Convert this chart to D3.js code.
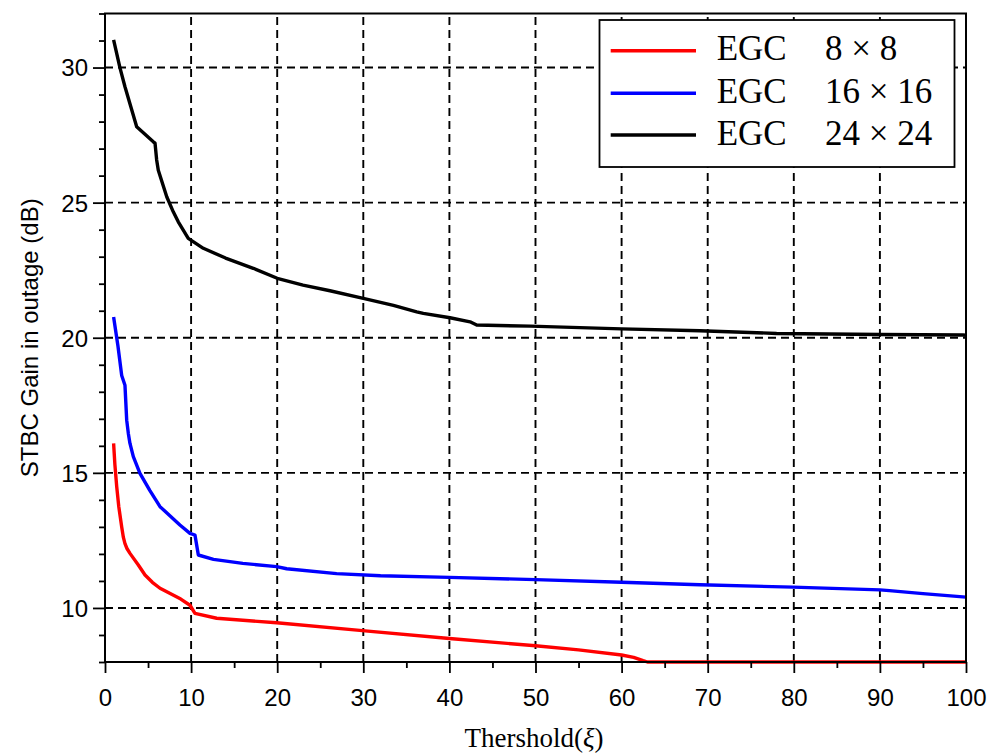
<!DOCTYPE html>
<html>
<head>
<meta charset="utf-8">
<script src="https://cdn.jsdelivr.net/npm/d3@7"></script>
<style>
  body { margin: 0; background: #fff; }
  svg { display: block; }
</style>
</head>
<body>
<svg id="chart" width="994" height="754"></svg>
<script>
// Threshold values and STBC gain (dB) for each EGC array size
const x8 = [1, 1.15, 1.36, 1.6, 1.94, 2.13, 2.32, 2.55, 2.9, 3.87, 4.65, 5.5, 6.39, 8.8, 9.87, 10.45, 12.97, 19.94, 29.9, 40, 50, 55, 60, 61.4, 62.5, 63, 70, 80, 90, 100];
const y8 = [16.09, 15.3, 14.49, 13.75, 13.0, 12.62, 12.38, 12.2, 12.02, 11.59, 11.22, 10.95, 10.73, 10.33, 10.1, 9.8, 9.62, 9.45, 9.16, 8.87, 8.6, 8.45, 8.26, 8.17, 8.05, 8.0, 8.0, 8.0, 8.0, 8.0];

const x16 = [1, 1.5, 1.94, 2.32, 2.52, 2.71, 2.9, 3.29, 4.06, 5.2, 6.39, 8.7, 9.87, 10.45, 10.84, 12.6, 16, 19.94, 21.1, 26.9, 32, 40, 50, 60, 69.1, 79.9, 90, 91.1, 95, 100];
const y16 = [20.77, 19.7, 18.6, 18.24, 16.95, 16.46, 16.09, 15.6, 14.98, 14.35, 13.75, 13.07, 12.76, 12.7, 11.96, 11.8, 11.65, 11.53, 11.45, 11.27, 11.19, 11.13, 11.05, 10.95, 10.86, 10.77, 10.67, 10.64, 10.53, 10.4];

const x24 = [1, 1.74, 2.32, 3.0, 3.68, 5.61, 5.81, 6.0, 6.19, 7.17, 7.93, 8.51, 9.67, 11.42, 14, 17.22, 20, 23, 26.13, 30, 33.5, 36.2, 36.97, 40.07, 42.4, 43.17, 49.36, 60, 69.1, 78, 90, 99.65, 100];
const y24 = [31.02, 29.99, 29.29, 28.55, 27.81, 27.25, 27.2, 26.58, 26.2, 25.22, 24.66, 24.29, 23.68, 23.31, 22.95, 22.57, 22.2, 21.95, 21.74, 21.46, 21.2, 20.96, 20.9, 20.74, 20.59, 20.47, 20.43, 20.33, 20.26, 20.16, 20.12, 20.1, 20.09];

const legendNames = ["EGC", "EGC", "EGC"];
const legendSizes = ["8 × 8", "16 × 16", "24 × 24"];
const seriesColors = ["#ff0000", "#0000ff", "#000000"];

const xTicks = [0, 10, 20, 30, 40, 50, 60, 70, 80, 90, 100];
const yTicks = [10, 15, 20, 25, 30];

const xLabel = "Thershold";
const yLabel = "STBC Gain in outage (dB)";

const series = [
  { xs: x8, ys: y8 },
  { xs: x16, ys: y16 },
  { xs: x24, ys: y24 }
];

const svg = d3.select("#chart");
const plotLeft = 105, plotRight = 966, plotTop = 13.5, plotBottom = 662;

const x = d3.scaleLinear().domain([0, 100]).range([plotLeft, plotRight]);
const y = d3.scaleLinear().domain([8, 32]).range([plotBottom, plotTop]);

// dashed grid
const grid = svg.append("g").attr("stroke", "#000").attr("stroke-width", 1.9)
  .attr("stroke-dasharray", "8,5").attr("fill", "none");
grid.selectAll("line.gx").data(xTicks.filter(d => d > 0 && d < 100)).join("line")
  .attr("class", "gx")
  .attr("x1", d => x(d)).attr("x2", d => x(d))
  .attr("y1", plotBottom).attr("y2", plotTop);
grid.selectAll("line.gy").data(yTicks).join("line")
  .attr("class", "gy")
  .attr("y1", d => y(d)).attr("y2", d => y(d))
  .attr("x1", plotLeft).attr("x2", plotRight);

// data curves
const line = d3.line().x(d => x(d[0])).y(d => y(d[1]));
svg.append("g").selectAll("path").data(series).join("path")
  .attr("d", s => line(s.xs.map((v, i) => [v, s.ys[i]])))
  .attr("fill", "none")
  .attr("stroke", (s, i) => seriesColors[i])
  .attr("stroke-width", 3.4)
  .attr("stroke-linejoin", "round");

// axes
const tickFont = "Liberation Sans, Arial, sans-serif";
const xAxis = svg.append("g").attr("transform", `translate(0,${plotBottom})`)
  .call(d3.axisBottom(x).tickValues(d3.range(0, 101, 5)).tickSize(6)
    .tickFormat(d => xTicks.includes(d) ? d : ""));
xAxis.select(".domain").remove();
xAxis.selectAll(".tick line").attr("stroke-width", 1.8)
  .attr("y2", d => xTicks.includes(d) ? 11 : 6);
xAxis.selectAll(".tick text").attr("font-family", tickFont).attr("font-size", 24)
  .attr("fill", "#000").attr("dy", 0).attr("y", 44);

const yAxis = svg.append("g").attr("transform", `translate(${plotLeft},0)`)
  .call(d3.axisLeft(y).tickValues(d3.range(8, 33, 1)).tickSize(6)
    .tickFormat(d => yTicks.includes(d) ? d : ""));
yAxis.select(".domain").remove();
yAxis.selectAll(".tick line").attr("stroke-width", 1.8)
  .attr("x2", d => yTicks.includes(d) ? -12 : -6);
yAxis.selectAll(".tick text").attr("font-family", tickFont).attr("font-size", 24)
  .attr("fill", "#000").attr("x", -17).attr("dy", "0.35em");

// plot frame
svg.append("rect").attr("x", plotLeft).attr("y", plotTop)
  .attr("width", plotRight - plotLeft).attr("height", plotBottom - plotTop)
  .attr("fill", "none").attr("stroke", "#000").attr("stroke-width", 2);

// axis titles
svg.append("text")
  .attr("transform", `translate(38,${(plotTop + plotBottom) / 2}) rotate(-90)`)
  .attr("text-anchor", "middle")
  .attr("font-family", tickFont).attr("font-size", 24)
  .text(yLabel);

const xt = svg.append("text").attr("x", 534).attr("y", 747)
  .attr("text-anchor", "middle")
  .attr("font-family", "Liberation Serif, Times New Roman, serif").attr("font-size", 27);
xt.append("tspan").text(xLabel + "(");
xt.append("tspan").attr("font-style", "italic").text("ξ");
xt.append("tspan").text(")");

// legend
const lg = svg.append("g");
lg.append("rect").attr("x", 599.5).attr("y", 20).attr("width", 355).attr("height", 147)
  .attr("fill", "#fff").attr("stroke", "#000").attr("stroke-width", 1.8);
const rowY = [50.7, 93.3, 135];
legendSizes.forEach((sz, i) => {
  lg.append("line").attr("x1", 610.7).attr("x2", 696)
    .attr("y1", rowY[i]).attr("y2", rowY[i])
    .attr("stroke", seriesColors[i]).attr("stroke-width", 3.4);
  lg.append("text").attr("x", 716.7).attr("y", rowY[i] + 9.5)
    .attr("font-family", "Liberation Serif, Times New Roman, serif").attr("font-size", 35)
    .text(legendNames[i]);
  lg.append("text").attr("x", 825).attr("y", rowY[i] + 9.5)
    .attr("font-family", "Liberation Serif, Times New Roman, serif").attr("font-size", 35)
    .text(sz);
});
</script>
</body>
</html>
